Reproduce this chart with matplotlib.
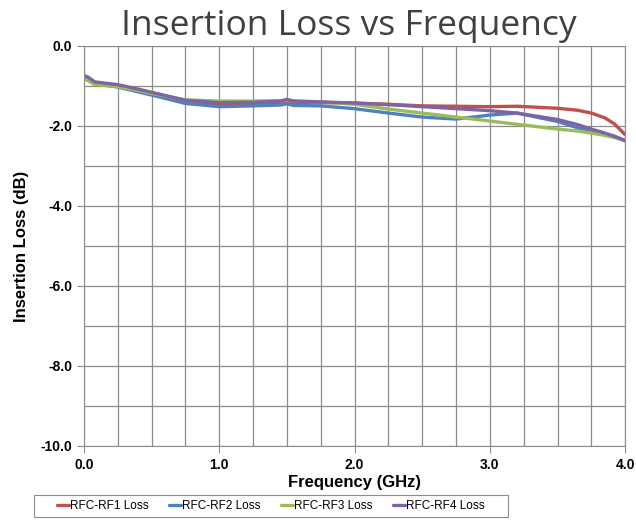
import matplotlib.pyplot as plt
from matplotlib.patches import Rectangle
from matplotlib.ticker import MultipleLocator

# frequency points (GHz) and insertion loss per path (dB)
freq = [0.0, 0.03, 0.08, 0.15, 0.25, 0.4, 0.55, 0.75, 1.0, 1.25, 1.45, 1.5, 1.55,
        1.75, 2.0, 2.25, 2.5, 2.75, 3.0, 3.2, 3.5, 3.65, 3.75, 3.85, 3.92, 4.0]

rf1 = [-0.78, -0.82, -0.93, -0.95, -1.00, -1.10, -1.22, -1.37, -1.45, -1.44, -1.42, -1.39, -1.43,
       -1.42, -1.43, -1.46, -1.50, -1.51, -1.52, -1.51, -1.56, -1.61, -1.68, -1.80, -1.95, -2.22]
rf2 = [-0.80, -0.85, -0.96, -0.98, -1.03, -1.15, -1.27, -1.44, -1.52, -1.50, -1.48, -1.45, -1.49,
       -1.50, -1.57, -1.68, -1.78, -1.83, -1.73, -1.68, -1.89, -2.05, -2.12, -2.20, -2.26, -2.37]
rf3 = [-0.82, -0.87, -0.97, -0.99, -1.02, -1.12, -1.22, -1.35, -1.38, -1.38, -1.37, -1.36, -1.38,
       -1.40, -1.46, -1.58, -1.68, -1.78, -1.88, -1.96, -2.08, -2.13, -2.18, -2.24, -2.29, -2.37]
rf4 = [-0.74, -0.78, -0.90, -0.93, -0.97, -1.08, -1.20, -1.36, -1.42, -1.41, -1.38, -1.34, -1.38,
       -1.40, -1.43, -1.47, -1.52, -1.57, -1.62, -1.68, -1.84, -1.97, -2.08, -2.18, -2.26, -2.37]

labels = ['RFC-RF1 Loss', 'RFC-RF2 Loss', 'RFC-RF3 Loss', 'RFC-RF4 Loss']
colors = ['#C0504D', '#4F81BD', '#9BBB59', '#8064A2']

plt.rcParams['font.family'] = ['Liberation Sans', 'DejaVu Sans']

W, H = 636, 521
fig = plt.figure(figsize=(W / 100, H / 100), dpi=100)
ax = fig.add_axes([0.132, 0.144, 0.851, 0.768])

for series, label, color in zip([rf1, rf2, rf3, rf4], labels, colors):
    ax.plot(freq, series, color=color, lw=2.4, label=label, solid_capstyle='round')

ax.set_xlim(0, 4.0)
ax.set_ylim(-10, 0)
ax.xaxis.set_major_locator(MultipleLocator(1.0))
ax.xaxis.set_minor_locator(MultipleLocator(0.25))
ax.yaxis.set_major_locator(MultipleLocator(2.0))
ax.yaxis.set_minor_locator(MultipleLocator(1.0))
ax.xaxis.set_major_formatter(lambda v, p: f'{v:.1f}')
ax.yaxis.set_major_formatter(lambda v, p: f'{v:.1f}')
ax.grid(True, which='both', color='#8c8c8c', lw=0.9)
ax.set_axisbelow(True)
ax.tick_params(which='major', direction='out', length=5, color='#8c8c8c',
               labelsize=10)
ax.tick_params(which='minor', length=0)
for lbl in ax.get_xticklabels() + ax.get_yticklabels():
    lbl.set_fontweight('bold')
for s in ax.spines.values():
    s.set_color('#8c8c8c')

ax.set_xlabel('Frequency (GHz)', fontsize=12, fontweight='bold', labelpad=2)
ax.set_ylabel('Insertion Loss (dB)', fontsize=12, fontweight='bold', labelpad=8)

fig.text(349 / W, 1 - 35 / H, 'Insertion Loss vs Frequency', ha='center', va='baseline',
         fontsize=25.5, color='#404040', family=['Open Sans', 'DejaVu Sans'])

# legend box drawn by hand (wide side padding like the original)
fig.patches.append(Rectangle((34 / W, 1 - 517 / H), 474 / W, 22 / H,
                             transform=fig.transFigure, fill=False,
                             edgecolor='#8c8c8c', lw=0.8))
fig.legend(loc='center', bbox_to_anchor=(271 / W, 1 - 506 / H), ncol=4,
           fontsize=8.5, frameon=False, handlelength=1.0,
           handletextpad=0.1, columnspacing=1.75)

fig.savefig('out.png', dpi=100)
